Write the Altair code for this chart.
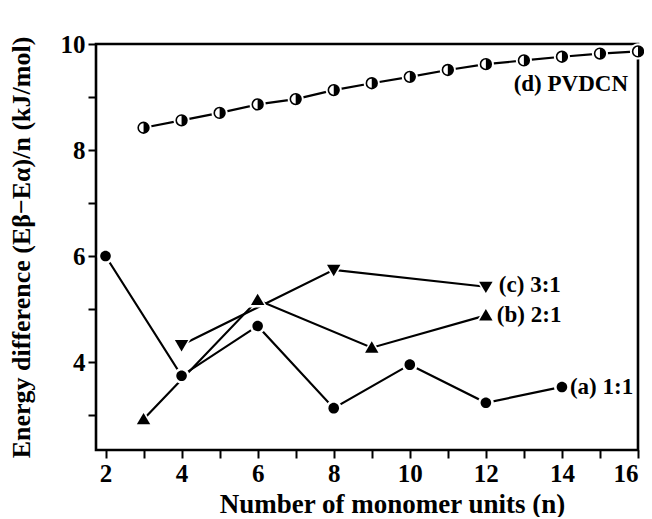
import altair as alt
import pandas as pd

# ---- data ----
n_a = [2, 4, 6, 8, 10, 12, 14]
e_a = [6.0, 3.74, 4.68, 3.13, 3.95, 3.23, 3.53]
n_b = [3, 6, 9, 12]
e_b = [2.92, 5.17, 4.27, 4.88]
n_c = [4, 8, 12]
e_c = [4.32, 5.74, 5.42]
n_d = [3, 4, 5, 6, 7, 8, 9, 10, 11, 12, 13, 14, 15, 16]
e_d = [8.42, 8.56, 8.7, 8.86, 8.96, 9.13, 9.26, 9.38, 9.51, 9.62, 9.69, 9.76, 9.82, 9.86]
series_names = ["(a) 1:1", "(b) 2:1", "(c) 3:1", "(d) PVDCN"]
x_ticks = list(range(2, 17))
y_ticks = list(range(3, 11))

rows = []
for name, ns, es in zip(series_names, [n_a, n_b, n_c, n_d], [e_a, e_b, e_c, e_d]):
    for n, e in zip(ns, es):
        rows.append({"series": name, "n": n, "E": e})
df = pd.DataFrame(rows)

FONT = "Liberation Serif"
CIRCLE = "M-1,0 A1,1 0 1,1 1,0 A1,1 0 1,1 -1,0 Z"
TRI_UP = "M0,-0.95 L1,0.75 L-1,0.75 Z"
TRI_DN = "M0,0.95 L1,-0.75 L-1,-0.75 Z"
HALF_R = "M0,-1 A1,1 0 0,1 0,1 Z"

x = alt.X(
    "n:Q",
    scale=alt.Scale(domain=[1.75, 16], nice=False, zero=False),
    axis=alt.Axis(
        values=x_ticks,
        labelExpr="datum.value % 2 == 0 ? datum.label : ''",
        title="Number of monomer units (n)",
        titlePadding=5,
        titleX=296,
        titleAlign="center",
        titleFontSize=27,
    ),
)
y = alt.Y(
    "E:Q",
    scale=alt.Scale(domain=[2.34, 10], nice=False, zero=False),
    axis=alt.Axis(
        values=y_ticks,
        labelExpr="datum.value % 2 == 0 ? datum.label : ''",
        title="Energy difference (Eβ−Eα)/n (kJ/mol)",
        titlePadding=26,
    ),
)

base = alt.Chart(df)


def sel(name):
    return base.transform_filter(alt.datum.series == name)


lines = base.mark_line(color="black", strokeWidth=2.2).encode(x=x, y=y, detail="series:N")

marker_specs = [
    ("(a) 1:1", CIRCLE, 112, 250),
    ("(b) 2:1", TRI_UP, 180, 400),
    ("(c) 3:1", TRI_DN, 180, 400),
]

halo_layers = []
solid_layers = []
for name, shp, sz, hsz in marker_specs:
    halo_layers.append(
        sel(name).mark_point(shape=shp, size=hsz, filled=True, color="white", opacity=1).encode(x=x, y=y)
    )
    solid_layers.append(
        sel(name).mark_point(shape=shp, size=sz, filled=True, color="black", opacity=1).encode(x=x, y=y)
    )

d_halo = sel("(d) PVDCN").mark_point(
    shape=CIRCLE, size=260, filled=True, color="white", opacity=1
).encode(x=x, y=y)
d_open = sel("(d) PVDCN").mark_point(
    shape=CIRCLE, size=115, fill="white", stroke="black", strokeWidth=1.6, opacity=1
).encode(x=x, y=y)
d_half = sel("(d) PVDCN").mark_point(
    shape=HALF_R, size=115, filled=True, color="black", opacity=1
).encode(x=x, y=y)


def label(name, dx, dy, align):
    return sel(name).transform_window(
        rank="rank()", sort=[alt.SortField("n", order="descending")]
    ).transform_filter(alt.datum.rank == 1).mark_text(
        text=name, align=align, baseline="middle", dx=dx, dy=dy,
        font=FONT, fontSize=23, fontWeight="bold", color="black",
    ).encode(x=x, y=y)


labels = [
    label("(a) 1:1", 8, 0, "left"),
    label("(b) 2:1", 11, 0, "left"),
    label("(c) 3:1", 13, -2, "left"),
    label("(d) PVDCN", -10, 33, "right"),
]

chart = alt.layer(
    lines, *halo_layers, d_halo, *solid_layers, d_open, d_half, *labels
).properties(
    width=542,
    height=406,
    autosize=alt.AutoSizeParams(type="none"),
    padding={"left": 88, "top": 36, "right": 6, "bottom": 67},
).configure_view(
    stroke="black", strokeWidth=2.6
).configure_axis(
    domain=False,
    grid=False,
    ticks=True,
    tickColor="black",
    tickWidth=2,
    tickSize=8,
    labelFont=FONT,
    labelFontSize=25,
    labelFontWeight="bold",
    labelColor="black",
    labelPadding=3,
    titleFont=FONT,
    titleFontSize=26,
    titleFontWeight="bold",
    titleColor="black",
)

chart.save("out.html", embed_options={"renderer": "svg", "actions": False})
